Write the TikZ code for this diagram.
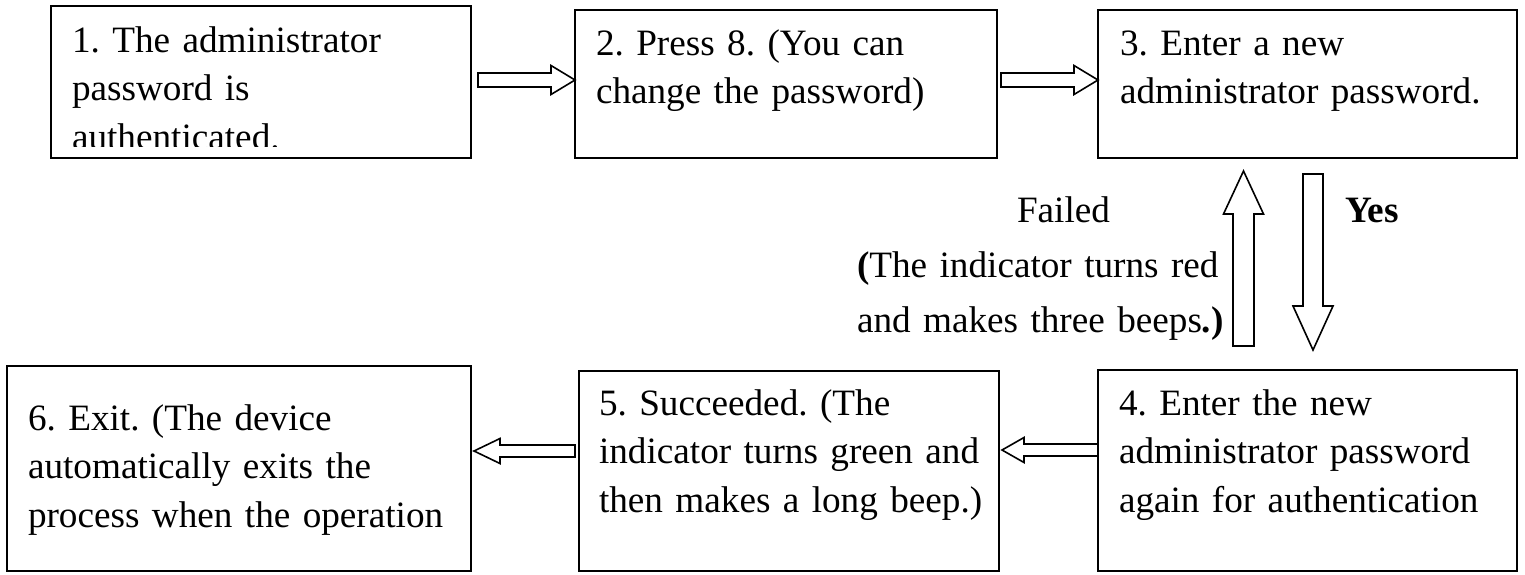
\documentclass[tikz,border=0pt]{standalone}
\usepackage{fontspec}
\setmainfont{Liberation Serif}
\usetikzlibrary{calc}
\frenchspacing
\tikzset{
  boxstyle/.style={draw, line width=2pt, inner sep=0pt, outer sep=0pt, anchor=north west},
  txtstyle/.style={anchor=base west, inner sep=0pt, outer sep=0pt, text width=460pt, align=left,
    font=\fontsize{37.2}{48.5}\selectfont\frenchspacing},
  harrow/.style={draw, line width=1.6pt, fill=white, line join=miter},
}
\newcommand\hollowarrow[5]{%
  \coordinate (ha-b) at ($(#2)!#5pt!(#1)$);
  \draw[harrow] ($(#1)!#3pt!90:(#2)$) -- ($(ha-b)!#3pt!-90:(#1)$) -- ($(ha-b)!#4pt!-90:(#1)$)
    -- (#2) -- ($(ha-b)!#4pt!90:(#1)$) -- ($(ha-b)!#3pt!90:(#1)$) -- ($(#1)!#3pt!-90:(#2)$) -- cycle;
}
\begin{document}
\begin{tikzpicture}[x=1pt,y=-1pt]
\useasboundingbox (0,0) rectangle (1525,574);
% boxes
\node[boxstyle, minimum width=420pt, minimum height=152pt] (b1) at (51,6) {};
\node[boxstyle, minimum width=422pt, minimum height=148pt] (b2) at (575,10) {};
\node[boxstyle, minimum width=419pt, minimum height=148pt] (b3) at (1098,10) {};
\node[boxstyle, minimum width=419pt, minimum height=201pt] (b4) at (1098,370) {};
\node[boxstyle, minimum width=420pt, minimum height=200pt] (b5) at (579,371) {};
\node[boxstyle, minimum width=464pt, minimum height=205pt] (b6) at (7,366) {};
% texts
\begin{scope}
\clip (51,6) rectangle (471,146);
\node[txtstyle] (t1) at ($(b1.north west)+(21,46)$) {1. The administrator\\password is\\authenticated.};
\end{scope}
\node[txtstyle] (t2) at ($(b2.north west)+(21,45)$) {2. Press 8. (You can\\change the password)};
\node[txtstyle] (t3) at ($(b3.north west)+(22,45)$) {3. Enter a new\\administrator password.};
\node[txtstyle] (t4) at ($(b4.north west)+(21,45)$) {4. Enter the new\\administrator password\\again for authentication};
\node[txtstyle] (t5) at ($(b5.north west)+(20,44)$) {5. Succeeded. (The\\indicator turns green and\\then makes a long beep.)};
\node[txtstyle] (t6) at ($(b6.north west)+(21,64)$) {6. Exit. (The device\\automatically exits the\\process when the operation};
% labels
\node[txtstyle, font=\fontsize{37.2}{55}\selectfont\frenchspacing] (fl) at (857,222)
  {\hspace*{160pt}Failed\\\textbf{(}The indicator turns red\\and makes three beeps\textbf{.)}};
\node[txtstyle] (yl) at (1345,222) {\textbf{Yes}};
% arrow end points
\coordinate (a12s) at ($(b1.east)+(7,-2)$);
\coordinate (a12t) at ($(b2.west)+(0,-4)$);
\coordinate (a23s) at ($(b2.east)+(4,-4)$);
\coordinate (a23t) at ($(b3.west)+(0,-4)$);
\coordinate (aups) at ($(b4.north west)+(145.5,-24)$);
\coordinate (aupt) at ($(b3.south west)+(145.5,13)$);
\coordinate (adns) at ($(b3.south west)+(215,16)$);
\coordinate (adnt) at ($(b4.north west)+(215,-20)$);
\coordinate (a45s) at ($(b4.west)+(0,-20.5)$);
\coordinate (a45t) at ($(b5.east)+(3,-21)$);
\coordinate (a56s) at ($(b5.west)+(-4,-20)$);
\coordinate (a56t) at ($(b6.east)+(3,-17.5)$);
% arrows
\hollowarrow{a12s}{a12t}{7}{14.5}{24}
\hollowarrow{a23s}{a23t}{7}{14.5}{24}
\hollowarrow{aups}{aupt}{10.5}{20}{43}
\hollowarrow{adns}{adnt}{10}{20}{44}
\hollowarrow{a45s}{a45t}{6}{12.5}{22}
\hollowarrow{a56s}{a56t}{6}{12.5}{26}
\end{tikzpicture}
\end{document}
